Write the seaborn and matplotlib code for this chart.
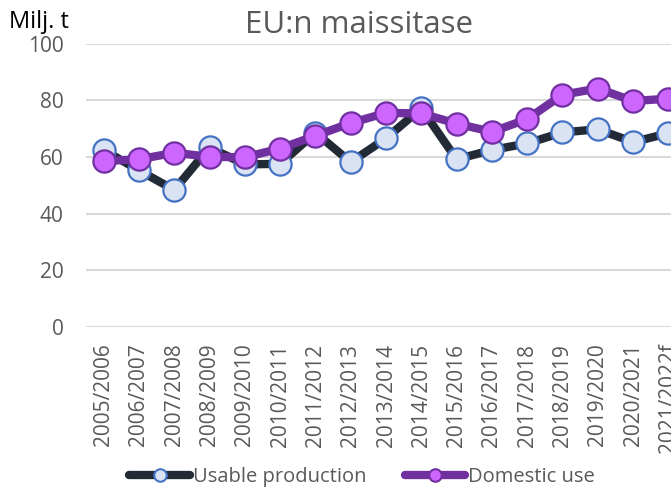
import pandas as pd
import matplotlib.pyplot as plt
import seaborn as sns
from matplotlib.lines import Line2D

# Marketing years on the x axis
seasons = ['2005/2006', '2006/2007', '2007/2008', '2008/2009', '2009/2010',
           '2010/2011', '2011/2012', '2012/2013', '2013/2014', '2014/2015',
           '2015/2016', '2016/2017', '2017/2018', '2018/2019', '2019/2020',
           '2020/2021', '2021/2022f']

# Million tonnes
usable_production = [62.5, 55.3, 48.4, 63.4, 57.4, 57.6, 68.6, 58.2, 66.6, 77.2,
                     59.2, 62.5, 64.8, 68.7, 69.8, 65.3, 68.4]
domestic_use = [58.6, 59.2, 61.5, 60.1, 59.9, 63.0, 67.5, 72.0, 75.6, 75.4,
                71.8, 68.9, 73.4, 82.0, 84.2, 79.8, 80.6]

df = pd.DataFrame({'season': seasons,
                   'Usable production': usable_production,
                   'Domestic use': domestic_use})

sns.set_style('white')
plt.rcParams['font.family'] = ['Open Sans', 'DejaVu Sans']

fig = plt.figure(figsize=(6.71, 4.90), dpi=100)
ax = fig.add_axes([86 / 671, 0.3327, 600 / 671, 0.578])

grey = '#595959'

# Usable production: dark line, pale blue markers
sns.lineplot(data=df, x='season', y='Usable production', ax=ax, sort=False,
             color='#222a35', linewidth=6, marker='o', markersize=16,
             markerfacecolor='#dae3f3', markeredgecolor='#4472c4',
             markeredgewidth=1.6, zorder=3)

# Domestic use: purple line, lilac markers
sns.lineplot(data=df, x='season', y='Domestic use', ax=ax, sort=False,
             color='#7030a0', linewidth=6, marker='o', markersize=16,
             markerfacecolor='#cc66ff', markeredgecolor='#7030a0',
             markeredgewidth=1.6, zorder=4)

ax.set_xlim(-0.5, len(seasons) - 0.5)
ax.set_ylim(0, 100)
ax.set_yticks([0, 20, 40, 60, 80, 100])
ax.yaxis.grid(True, color='#d9d9d9', linewidth=1.5)
ax.set_axisbelow(True)
for s in ax.spines.values():
    s.set_visible(False)
ax.set_xlabel('')
ax.set_ylabel('')
ax.tick_params(axis='both', length=0, colors=grey, labelsize=15)
ax.tick_params(axis='x', pad=12)
plt.setp(ax.get_xticklabels(), rotation=90)
ax.tick_params(axis='y', pad=16)

fig.text(359 / 671, (490 - 33) / 490, 'EU:n maissitase', ha='center',
         va='baseline', fontsize=22.5, color=grey)
fig.text(9 / 671, (490 - 28) / 490, 'Milj. t', ha='left', va='baseline',
         fontsize=17, color='black')

handles = [
    Line2D([], [], color='#222a35', linewidth=6, marker='o', markersize=9,
           markerfacecolor='#dae3f3', markeredgecolor='#4472c4', markeredgewidth=1.5),
    Line2D([], [], color='#7030a0', linewidth=6, marker='o', markersize=9,
           markerfacecolor='#cc66ff', markeredgecolor='#7030a0', markeredgewidth=1.5),
]
leg = fig.legend(handles, ['Usable production', 'Domestic use'], loc='center',
                 bbox_to_anchor=(362 / 671, (490 - 477) / 490), ncol=2,
                 frameon=False, fontsize=14.5, handlelength=3.0,
                 handletextpad=0.15, columnspacing=1.9)
for t in leg.get_texts():
    t.set_color(grey)

fig.savefig('out.png', dpi=100)
